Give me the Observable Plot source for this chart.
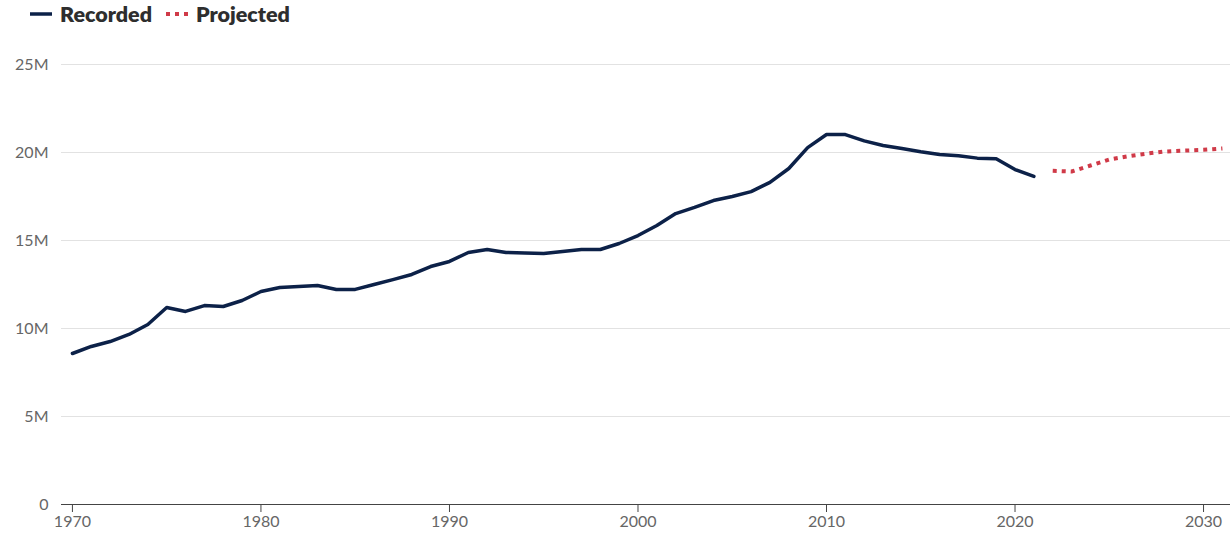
<!DOCTYPE html>
<html>
<head>
<meta charset="utf-8">
<script src="https://cdn.jsdelivr.net/npm/d3@7"></script>
<script src="https://cdn.jsdelivr.net/npm/@observablehq/plot@0.6"></script>
<style>
  html, body { margin: 0; padding: 0; background: #fff; }
  body { width: 1230px; height: 535px; overflow: hidden; font-family: Lato, "Open Sans", sans-serif; }
  #legend { height: 30px; position: relative; }
  .item { position: absolute; top: 0px; display: flex; align-items: center; font-weight: 800; font-size: 21.5px; color: #2e2e2e; line-height: 28px; }
  .item svg { margin-right: 8px; }
</style>
</head>
<body>
<div id="legend">
  <div class="item" style="left:30px"><svg width="22" height="6"><line x1="0" y1="3" x2="22" y2="3" stroke="#0c2148" stroke-width="3.5"/></svg>Recorded</div>
  <div class="item" style="left:166px"><svg width="22" height="6"><line x1="0" y1="3" x2="22" y2="3" stroke="#d03a48" stroke-width="4" stroke-dasharray="4,5"/></svg>Projected</div>
</div>
<div id="chart"></div>
<script>
const years = [1970,1971,1972,1973,1974,1975,1976,1977,1978,1979,1980,1981,1982,1983,1984,1985,1986,1987,1988,1989,1990,1991,1992,1993,1994,1995,1996,1997,1998,1999,2000,2001,2002,2003,2004,2005,2006,2007,2008,2009,2010,2011,2012,2013,2014,2015,2016,2017,2018,2019,2020,2021];
const recorded = [8.58,8.98,9.26,9.66,10.23,11.19,10.97,11.3,11.25,11.59,12.1,12.33,12.39,12.44,12.22,12.22,12.5,12.78,13.07,13.52,13.81,14.32,14.49,14.32,14.29,14.26,14.38,14.49,14.49,14.83,15.28,15.85,16.53,16.88,17.27,17.5,17.78,18.3,19.09,20.28,21.02,21.02,20.66,20.4,20.23,20.04,19.89,19.82,19.68,19.65,19.03,18.64];
const projYears = [2022,2023,2024,2025,2026,2027,2028,2029,2030,2031];
const projected = [18.96,18.92,19.26,19.6,19.79,19.94,20.06,20.11,20.15,20.23];
const xTicks = [1970,1980,1990,2000,2010,2020,2030];
const yTicks = [0,5,10,15,20,25];

const rec = years.map((y, i) => ({year: y, value: recorded[i] * 1e6}));
const proj = projYears.map((y, i) => ({year: y, value: projected[i] * 1e6}));

const chart = Plot.plot({
  width: 1230,
  height: 505,
  marginLeft: 61,
  marginRight: 0,
  marginTop: 34,
  marginBottom: 31,
  style: {fontFamily: "Lato, 'Open Sans', sans-serif", background: "#fff"},
  x: {domain: [1969.42, 2031.43]},
  y: {domain: [0, 25e6]},
  marks: [
    Plot.gridY(yTicks.filter(d => d > 0).map(d => d * 1e6), {stroke: "#e2e2e2", strokeOpacity: 1, strokeWidth: 1}),
    Plot.axisY(yTicks.map(d => d * 1e6), {tickSize: 0, tickPadding: 13, fontSize: 16, fill: "#666", label: null,
      tickFormat: d => d === 0 ? "0" : (d / 1e6) + "M"}),
    Plot.ruleY([0], {stroke: "#444", strokeWidth: 1.2}),
    Plot.axisX(xTicks, {tickSize: 8, tickPadding: 3, fontSize: 16, fill: "#666", stroke: "#444", label: null,
      tickFormat: d => String(d)}),
    Plot.line(rec, {x: "year", y: "value", stroke: "#0c2148", strokeWidth: 3.5, strokeLinejoin: "round", strokeLinecap: "round"}),
    Plot.line(proj, {x: "year", y: "value", stroke: "#d03a48", strokeWidth: 4, strokeDasharray: "4,5", strokeLinecap: "butt"})
  ]
});
document.getElementById("chart").appendChild(chart);
</script>
</body>
</html>
